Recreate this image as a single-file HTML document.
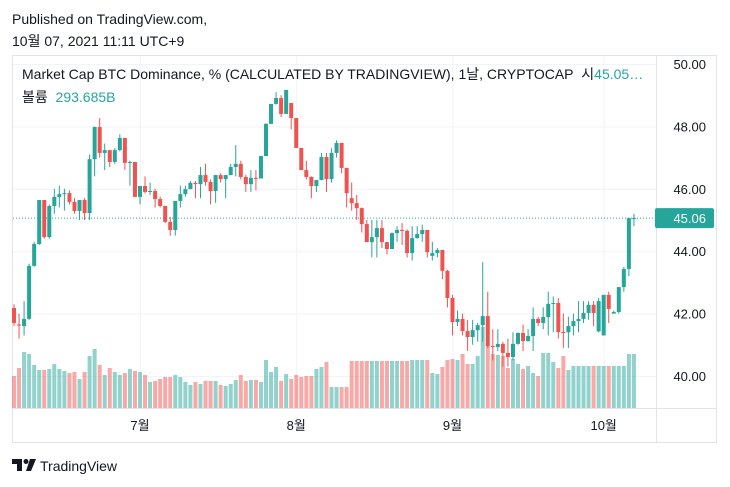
<!DOCTYPE html>
<html><head><meta charset="utf-8"><style>
body{margin:0;background:#fff;width:730px;height:487px;overflow:hidden;font-family:"Liberation Sans","Noto Sans CJK KR",sans-serif;}
svg{position:absolute;left:0;top:0}
</style></head><body>
<svg id="c" width="730" height="487" font-family="Liberation Sans, Noto Sans CJK KR, sans-serif">
<text x="12" y="24" font-size="14" fill="#131722">Published on TradingView.com,</text>
<text x="12" y="46" font-size="14" fill="#131722">10월 07, 2021 11:11 UTC+9</text>
<rect x="12.5" y="55.5" width="704" height="387" fill="none" stroke="#e0e3eb"/>
<line x1="656.5" y1="55" x2="656.5" y2="442" stroke="#e0e3eb"/>
<line x1="12" y1="408.5" x2="717" y2="408.5" stroke="#e0e3eb"/>
<g id="grid"></g><g id="vol"></g><g id="candles"></g><g id="axes"></g>
<text x="22" y="79" font-size="14" fill="#131722">Market Cap BTC Dominance, % (CALCULATED BY TRADINGVIEW), 1날, CRYPTOCAP&#160;&#160;시<tspan fill="#26a69a">45.05…</tspan></text>
<text x="22" y="102" font-size="14" fill="#131722">볼륨&#160;&#160;<tspan fill="#26a69a">293.685B</tspan></text>
<g>
<path d="M12 459h10v12h-5v-7h-5z" fill="#131722"/>
<circle cx="26" cy="461.5" r="2.5" fill="#131722"/>
<path d="M30 459h6l-5 12h-5z" fill="#131722"/>
<text x="40" y="471" font-size="14" fill="#131722">TradingView</text>
</g>
</svg>
<script>
const opens=[42.18,41.65,41.6,41.83,43.53,44.23,45.64,44.45,45.45,45.74,45.86,45.86,45.58,45.29,45.64,45.22,46.95,47.98,47.15,47.24,46.86,47.24,47.63,46.83,46.86,45.74,46.09,45.9,45.93,45.67,45.45,44.94,44.68,45.61,45.83,45.99,46.19,46.15,46.44,46.22,45.93,46.44,46.31,46.44,46.7,46.8,46.38,46.15,46.35,46.33,47.05,48.08,48.72,48.91,48.4,48.75,48.27,47.31,46.6,46.38,46.09,46.28,47.02,46.31,47.15,47.47,46.67,45.70,45.54,45.38,44.87,44.29,44.45,44.74,44.29,44.07,44.58,44.68,44.65,43.94,44.42,44.55,44.68,43.85,43.94,44.04,43.37,42.5,41.73,41.83,41.44,41.25,41.47,41.63,41.92,40.96,40.93,41.03,40.74,40.61,41.03,41.38,41.12,41.28,41.83,41.7,41.89,42.31,42.34,41.41,41.4,41.6,41.76,41.83,42.02,42.28,41.43,41.3,42.6,42.0,42.05,42.85,43.43,45.06];
const closes=[41.70,41.63,41.83,43.53,44.23,45.64,44.45,45.45,45.74,45.83,45.86,45.58,45.29,45.64,45.22,46.95,47.98,47.15,47.24,46.86,47.24,47.63,46.83,46.86,45.74,46.09,45.9,45.93,45.67,45.45,44.94,44.68,45.61,45.83,45.99,46.19,46.15,46.44,46.22,45.93,46.44,46.31,46.44,46.7,46.8,46.38,46.15,46.35,46.33,47.05,48.08,48.72,48.91,48.4,49.17,48.27,47.31,46.6,46.38,46.09,46.28,47.02,46.31,47.15,47.47,46.67,45.86,45.54,45.38,44.87,44.29,44.45,44.74,44.29,44.07,44.58,44.68,44.65,43.94,44.42,44.55,44.68,43.97,43.94,44.04,43.37,42.5,41.73,41.83,41.44,41.25,41.47,41.63,41.92,40.96,40.93,41.03,40.74,40.61,41.03,41.38,41.12,41.28,41.83,41.7,41.89,42.31,42.34,41.41,41.4,41.6,41.76,41.83,42.02,42.28,42.02,42.40,42.6,42.15,42.05,42.85,43.43,45.06,45.06];
const highs=[42.3,42.0,42.4,43.6,44.3,45.64,45.64,45.5,46.0,46.1,46.0,45.95,45.7,45.64,45.7,47.1,48.0,48.27,47.45,47.24,47.3,47.75,47.63,46.9,46.86,46.09,46.4,46.2,46.0,45.75,45.45,45.1,45.61,46.1,46.1,46.25,46.25,46.7,46.8,46.3,46.44,46.5,46.44,46.8,47.4,46.9,46.45,46.6,46.6,47.05,48.1,48.72,49.1,49.0,49.17,48.75,48.27,47.31,46.9,46.4,46.28,47.15,47.15,47.3,47.55,47.47,46.67,46.2,45.8,45.4,45.0,45.0,45.0,45.0,44.3,44.6,44.8,44.9,44.7,44.8,44.8,44.85,44.68,44.3,44.1,44.04,43.4,42.6,42.1,42.0,41.8,41.8,41.7,43.65,42.7,41.5,41.5,41.1,41.2,41.4,41.4,41.65,41.5,42.2,41.9,42.2,42.7,42.55,42.5,42.0,41.9,42.0,42.4,42.4,42.4,42.4,42.5,42.6,42.7,42.1,42.85,43.5,45.06,45.2];
const lows=[41.6,41.2,41.3,41.8,43.5,44.2,44.4,44.4,45.2,45.4,45.3,45.5,45.2,45.0,45.0,45.0,46.4,47.0,46.6,46.7,46.8,47.2,46.6,46.1,45.74,45.5,45.85,45.8,45.4,45.4,44.9,44.5,44.5,45.4,45.75,46.0,45.7,45.7,46.1,45.5,45.55,46.2,45.7,46.44,46.4,46.3,45.9,45.9,45.95,46.33,47.05,48.08,48.7,48.3,48.4,47.9,47.31,46.6,46.3,45.7,45.9,46.28,45.9,46.2,47.0,46.5,45.4,45.3,45.0,44.6,44.29,43.8,43.8,44.1,43.9,44.07,44.3,44.2,43.8,43.7,44.4,44.3,43.8,43.7,43.8,43.1,42.2,41.3,41.6,41.3,40.8,41.0,41.1,41.1,40.9,40.5,40.8,40.3,40.3,40.5,41.0,40.8,41.1,40.8,41.6,41.5,41.3,41.4,41.2,40.9,40.9,41.3,41.4,41.7,41.8,41.6,41.4,41.3,41.7,42.0,42.0,42.7,43.2,44.8];
const volumes=[320,400,560,540,430,380,380,390,440,390,370,350,360,290,360,520,590,430,330,400,360,330,350,390,370,360,330,260,270,290,310,310,330,310,260,230,260,240,270,270,270,230,220,240,280,330,270,280,280,260,480,360,410,270,340,290,330,310,320,320,390,410,460,210,210,210,210,470,470,470,470,470,470,470,470,470,470,470,470,480,480,480,480,350,340,410,480,490,480,540,440,440,520,810,630,540,530,520,400,490,440,390,420,350,320,550,550,460,400,520,380,420,420,420,420,420,420,420,420,420,420,420,540,540];
const priceTicks=[50,48,46,44,42,40];
const tickLabels=["50.00","48.00","46.00","44.00","42.00","40.00"];
const monthDays=[25,56,87,117];
const monthLabels=["7월","8월","9월","10월"];
const lastPrice=45.06;

const NS="http://www.w3.org/2000/svg";
const X0=14,DX=5.04,Y50=64,PX=31.2,VBASE=408,VMAX=1000,VH=100;
const xs=i=>X0+i*DX;
const ys=v=>Y50+(50-v)*PX;
const vy=v=>VBASE-v/VMAX*VH;
function mk(tag,at,parent){const e=document.createElementNS(NS,tag);for(const k in at)e.setAttribute(k,at[k]);parent.appendChild(e);return e;}
const G=document.getElementById('grid'),V=document.getElementById('vol'),C=document.getElementById('candles'),A=document.getElementById('axes');
priceTicks.forEach((p,i)=>{
  const l=mk('line',{x1:13,x2:656,y1:ys(p)+0.5,y2:ys(p)+0.5,stroke:'#f0f3fa'},G);
  
  
  const t=mk('text',{x:706,y:ys(p)+5,'font-size':13,fill:'#131722','text-anchor':'end'},A);
  t.textContent=tickLabels[i];
  
  
});
monthDays.forEach((d,i)=>{
  const l=mk('line',{x1:xs(d)+0.5,x2:xs(d)+0.5,y1:56,y2:408,stroke:'#f0f3fa'},G);
  
  
  const t=mk('text',{x:xs(d),y:430,'font-size':13,fill:'#131722','text-anchor':'middle'},A);
  t.textContent=monthLabels[i];
  
  
});
closes.forEach((c,i)=>{
  const o=opens[i],up=c>=o,col=up?'#26a69a':'#ef5350',x=xs(i);
  const vb=mk('rect',{x:x-2,y:vy(volumes[i]),width:4,height:VBASE-vy(volumes[i]),fill:up?'rgba(38,166,154,0.5)':'rgba(239,83,80,0.5)'},V);
  
  
  const w=mk('line',{x1:x,x2:x,y1:ys(highs[i]),y2:ys(lows[i]),stroke:col,'stroke-width':1},C);
  
  
  const top=ys(Math.max(o,c)),bot=ys(Math.min(o,c));
  const b=mk('rect',{x:x-2,y:top,width:4,height:Math.max(1,bot-top),fill:col},C);
  
  
});
const pl=mk('line',{x1:13,x2:656,y1:ys(lastPrice),y2:ys(lastPrice),stroke:'#26a69a','stroke-dasharray':'1 2'},A);


const pb=mk('rect',{x:655,y:ys(lastPrice)-10,width:59,height:20,rx:2,fill:'#26a69a'},A);


const pt=mk('text',{x:706,y:ys(lastPrice)+5,'font-size':13,fill:'#fff','text-anchor':'end'},A);
pt.textContent=lastPrice.toFixed(2);


</script>
</body></html>
